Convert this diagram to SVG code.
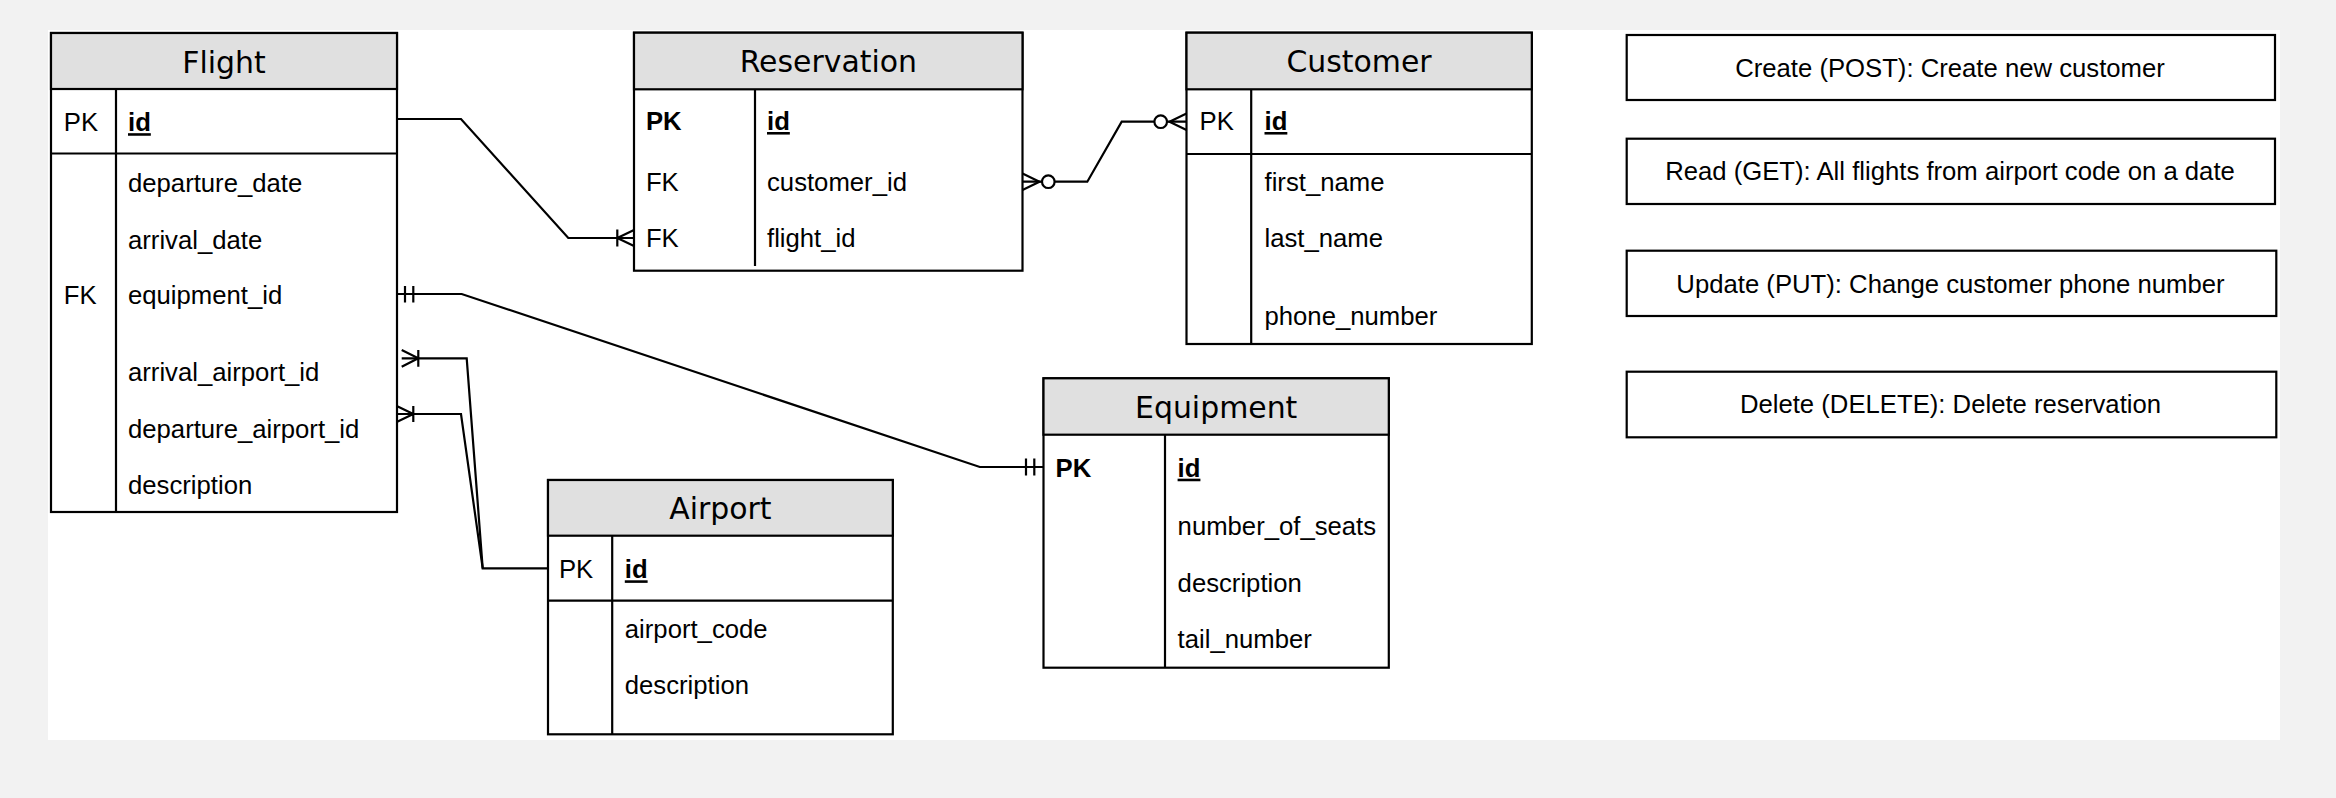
<svg xmlns="http://www.w3.org/2000/svg" width="2336" height="798" viewBox="0 0 2336 798">
<style>
.box{fill:#fff;stroke:#000;stroke-width:2.2}
.hdr{fill:#e0e0e0;stroke:#000;stroke-width:2.2}
.ln{stroke:#000;stroke-width:2.2;fill:none}
.c{fill:none;stroke:#000;stroke-width:2.2}
.o{fill:#fff;stroke:#000;stroke-width:2.2}
.t{font-family:"Liberation Sans",Arial,sans-serif;font-size:25.7px;fill:#000}
.h{font-family:"DejaVu Sans",sans-serif;font-size:29.9px;fill:#000;text-anchor:middle}
.m{text-anchor:middle}
.b{font-weight:bold}
.u{font-weight:bold;text-decoration:underline}
</style>
<rect x="0" y="0" width="2336" height="798" fill="#f2f2f2"/>
<rect x="48" y="30" width="2232" height="710" fill="#fff"/>

<g id="connectors">
  <!-- Flight.id -> Reservation.flight_id -->
  <path class="c" d="M396.9,119 L461,119 L568.3,238 L634,238"/>
  <path class="c" d="M617.3,229.5 L617.3,246.5 M634,230 L617.3,238 L634,246"/>
  <!-- Reservation.customer_id -> Customer.id -->
  <path class="c" d="M1022.5,181.7 L1087.3,181.7 L1121.7,121.7 L1186.5,121.7"/>
  <path class="c" d="M1022.5,173.5 L1039.5,181.7 L1022.5,190"/>
  <circle class="o" cx="1048.3" cy="181.7" r="6.3"/>
  <path class="c" d="M1186.5,113.5 L1169.5,121.7 L1186.5,130"/>
  <circle class="o" cx="1160.7" cy="121.7" r="6.3"/>
  <!-- Flight.equipment_id -> Equipment.id -->
  <path class="c" d="M396.7,294 L461.7,294 L979.8,467 L1043.5,467"/>
  <path class="c" d="M405,286 L405,302.5 M413.3,286 L413.3,302.5 M1026,458.5 L1026,475.5 M1034.3,458.5 L1034.3,475.5"/>
  <!-- Flight.arrival_airport_id -> Airport.id -->
  <path class="c" d="M401.7,358.3 L466.7,358.3 L482.7,568.3 L547.5,568.3"/>
  <path class="c" d="M401.7,350 L418.3,358.3 L401.7,366.7 M418.3,350 L418.3,366.7"/>
  <!-- Flight.departure_airport_id -> Airport.id -->
  <path class="c" d="M396.7,414 L461,414 L482.7,568.3"/>
  <path class="c" d="M396.7,406 L413.3,414 L396.7,422 M413.3,406 L413.3,422"/>
</g>

<g id="flight">
  <rect class="box" x="51" y="33" width="346" height="479"/>
  <rect class="hdr" x="51" y="33" width="346" height="56"/>
  <line class="ln" x1="51" y1="153.5" x2="397" y2="153.5"/>
  <line class="ln" x1="116" y1="89" x2="116" y2="512"/>
  <text class="h" x="224" y="72.7">Flight</text>
  <text class="t" x="63.8" y="131.2">PK</text>
  <text class="t u" x="128" y="131.2">id</text>
  <text class="t" x="128" y="192">departure_date</text>
  <text class="t" x="128" y="248.5">arrival_date</text>
  <text class="t" x="63.8" y="304.3">FK</text>
  <text class="t" x="128" y="304.3">equipment_id</text>
  <text class="t" x="128" y="381.3">arrival_airport_id</text>
  <text class="t" x="128" y="437.8">departure_airport_id</text>
  <text class="t" x="128" y="493.6">description</text>
</g>

<g id="reservation">
  <rect class="box" x="634" y="32.7" width="388.5" height="238"/>
  <rect class="hdr" x="634" y="32.7" width="388.5" height="56.6"/>
  <line class="ln" x1="755" y1="89.3" x2="755" y2="266"/>
  <text class="h" x="828.3" y="71.7">Reservation</text>
  <text class="t b" x="645.9" y="130">PK</text>
  <text class="t u" x="767" y="130">id</text>
  <text class="t" x="645.9" y="190.7">FK</text>
  <text class="t" x="767" y="190.7">customer_id</text>
  <text class="t" x="645.9" y="246.7">FK</text>
  <text class="t" x="767" y="246.7">flight_id</text>
</g>

<g id="customer">
  <rect class="box" x="1186.5" y="32.7" width="345.3" height="311.3"/>
  <rect class="hdr" x="1186.5" y="32.7" width="345.3" height="56.6"/>
  <line class="ln" x1="1186.5" y1="154" x2="1531.8" y2="154"/>
  <line class="ln" x1="1251.2" y1="89.3" x2="1251.2" y2="344"/>
  <text class="h" x="1359" y="71.7">Customer</text>
  <text class="t" x="1199.5" y="130">PK</text>
  <text class="t u" x="1264.5" y="130">id</text>
  <text class="t" x="1264.5" y="190.7">first_name</text>
  <text class="t" x="1264.5" y="246.7">last_name</text>
  <text class="t" x="1264.5" y="325">phone_number</text>
</g>

<g id="equipment">
  <rect class="box" x="1043.5" y="378.3" width="345.3" height="289.4"/>
  <rect class="hdr" x="1043.5" y="378.3" width="345.3" height="56.4"/>
  <line class="ln" x1="1165" y1="434.7" x2="1165" y2="667.7"/>
  <text class="h" x="1216.2" y="418.3">Equipment</text>
  <text class="t b" x="1055.5" y="476.7">PK</text>
  <text class="t u" x="1177.6" y="476.7">id</text>
  <text class="t" x="1177.6" y="535">number_of_seats</text>
  <text class="t" x="1177.6" y="591.7">description</text>
  <text class="t" x="1177.6" y="648.3">tail_number</text>
</g>

<g id="airport">
  <rect class="box" x="548" y="480" width="344.8" height="254.3"/>
  <rect class="hdr" x="548" y="480" width="344.8" height="55.7"/>
  <line class="ln" x1="548" y1="600.7" x2="892.8" y2="600.7"/>
  <line class="ln" x1="612.2" y1="535.7" x2="612.2" y2="734.3"/>
  <text class="h" x="720.4" y="519.3">Airport</text>
  <text class="t" x="558.9" y="578.3">PK</text>
  <text class="t u" x="624.8" y="578.3">id</text>
  <text class="t" x="624.8" y="638.3">airport_code</text>
  <text class="t" x="624.8" y="694.3">description</text>
</g>

<g id="crud-create">
  <rect class="box" x="1626.7" y="35" width="648.3" height="65"/>
  <text class="t m" x="1950" y="76.7">Create (POST): Create new customer</text>
</g>
<g id="crud-read">
  <rect class="box" x="1626.7" y="138.7" width="648.3" height="65.3"/>
  <text class="t m" x="1950" y="180">Read (GET): All flights from airport code on a date</text>
</g>
<g id="crud-update">
  <rect class="box" x="1626.7" y="250.7" width="649.6" height="65.3"/>
  <text class="t m" x="1950.5" y="292.7">Update (PUT): Change customer phone number</text>
</g>
<g id="crud-delete">
  <rect class="box" x="1626.7" y="371.7" width="649.6" height="65.6"/>
  <text class="t m" x="1950.5" y="413.3">Delete (DELETE): Delete reservation</text>
</g>
</svg>
